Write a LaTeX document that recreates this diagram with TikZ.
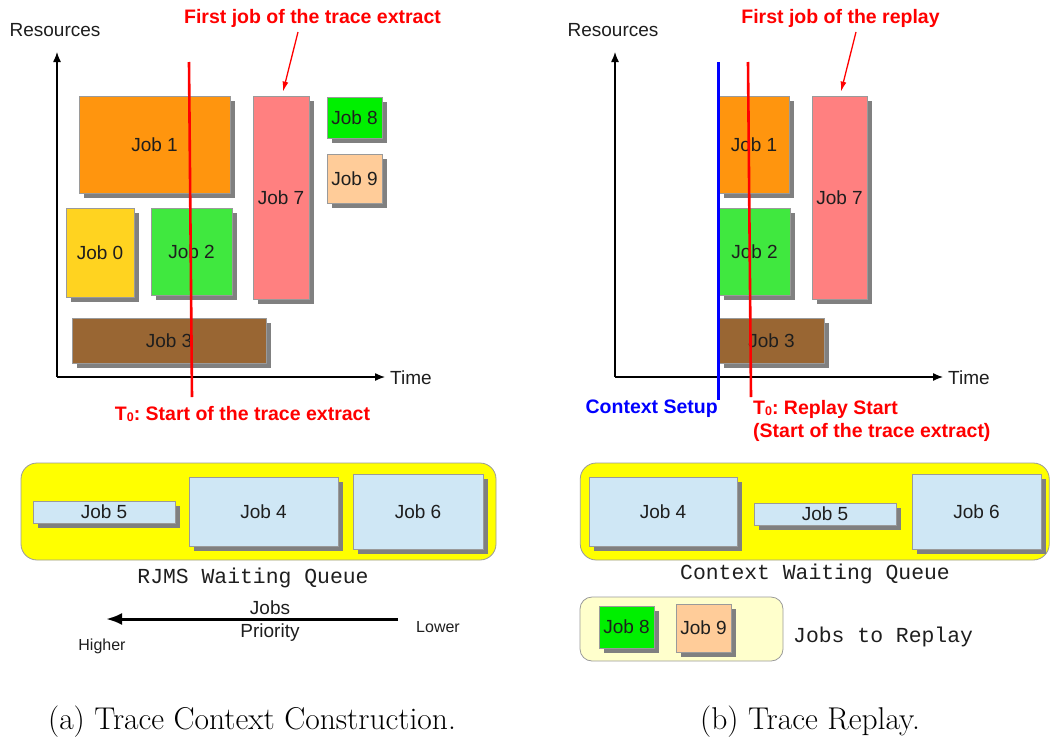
\documentclass[tikz,border=0pt]{standalone}
\usepackage{fontspec}
\usetikzlibrary{arrows.meta,shadows}
\newfontfamily\jobfont{Liberation Sans}
\newfontfamily\queuefont{Liberation Mono}
\definecolor{joborange}{HTML}{FF950E}
\definecolor{jobgold}{HTML}{FFD320}
\definecolor{jobgreen}{HTML}{40E83F}
\definecolor{jobbright}{HTML}{00F000}
\definecolor{jobpink}{HTML}{FF8080}
\definecolor{jobpeach}{HTML}{FFCC99}
\definecolor{jobbrown}{HTML}{996633}
\definecolor{jobblue}{HTML}{CFE7F5}
\definecolor{jobshadow}{HTML}{808080}
\definecolor{jobborder}{HTML}{9A9A9A}
\definecolor{jobtext}{HTML}{1E1E1E}
\definecolor{tracered}{HTML}{FF0000}
\definecolor{setupblue}{HTML}{0000FF}
\definecolor{queueyellow}{HTML}{FFFF00}
\definecolor{replayyellow}{HTML}{FFFFCC}
\frenchspacing

\begin{document}
\begin{tikzpicture}[x=1pt,y=-1pt,
    job/.style={draw=jobborder, line width=0.8pt, inner sep=0pt, text=jobtext,
      font=\jobfont\fontsize{19}{22}\selectfont,
      general shadow={fill=jobshadow, shadow xshift=5pt, shadow yshift=-5pt}},
    queue/.style={draw=jobborder, line width=0.8pt, rounded corners=16pt, inner sep=0pt},
    axis/.style={line width=1.3pt, -{Latex[length=10pt,width=8pt]}},
    plain/.style={inner sep=0pt, text=jobtext, font=\jobfont\fontsize{19}{22}\selectfont},
    small/.style={inner sep=0pt, text=jobtext, font=\jobfont\fontsize{16}{19}\selectfont},
    mono/.style={inner sep=0pt, text=jobtext, font=\queuefont\fontsize{21.4}{24}\selectfont},
    redtext/.style={inner sep=0pt, text=tracered, font=\jobfont\bfseries\fontsize{19.5}{23}\selectfont},
    bluetext/.style={inner sep=0pt, text=setupblue, font=\jobfont\bfseries\fontsize{19.5}{23}\selectfont},
    redline/.style={draw=tracered, line width=2.6pt},
    blueline/.style={draw=setupblue, line width=3pt},
    redarrow/.style={draw=tracered, line width=1.3pt, -{Latex[length=10pt,width=6pt]}},
    caption/.style={inner sep=0pt, font=\fontsize{31.5}{36}\selectfont}]
  \useasboundingbox (0,0) rectangle (1051,739);

  % T0 subscript
  \def\tzero{T\raisebox{-1.5pt}{\fontsize{12.5}{12}\selectfont 0}}

  % ---- (a) Trace Context Construction ----
  % Axes
  \coordinate (oL) at (57,377);
  \coordinate (yL) at (57,52);
  \coordinate (xL) at (385,377);
  \draw[axis] (oL) -- (yL);
  \draw[axis] (oL) -- (xL);
  \node[plain] (resL) at (55,30) {Resources};
  \node[plain, anchor=west] (timeL) at (390,378) {Time};

  % Jobs on the schedule
  \node[job, fill=joborange, minimum width=151pt, minimum height=97pt] (l1) at (154.5,144.5) {Job 1};
  \node[job, fill=jobgold, minimum width=68pt, minimum height=89pt] (l0) at (100,252.5) {Job 0};
  \node[job, fill=jobgreen, minimum width=81pt, minimum height=87pt] (l2) at (191.5,251.5) {Job 2};
  \node[job, fill=jobpink, minimum width=56pt, minimum height=203pt] (l7) at (281,197.5) {Job 7};
  \node[job, fill=jobbright, minimum width=55pt, minimum height=41pt] (l8) at (354.5,117.5) {Job 8};
  \node[job, fill=jobpeach, minimum width=55pt, minimum height=49pt] (l9) at (354.5,178.5) {Job 9};
  \node[job, fill=jobbrown, minimum width=194pt, minimum height=45pt] (l3) at (169,340.5) {Job 3};

  % Start of the trace extract
  \coordinate (t0Ltop) at (189,62);
  \coordinate (t0Lbot) at (192,397);
  \draw[redline] (t0Ltop) -- (t0Lbot);
  \node[redtext] (t0L) at (242.5,414) {\tzero: Start of the trace extract};

  % First job of the extract
  \node[redtext] (firstL) at (312.5,18.5) {First job of the trace extract};
  \coordinate (firstLtail) at (298,32);
  \draw[redarrow] (firstLtail) -- ([xshift=2pt,yshift=4pt]l7.north);

  % RJMS waiting queue
  \node[queue, fill=queueyellow, minimum width=475pt, minimum height=97pt] (qL) at (258.5,511.5) {};
  \node[job, fill=jobblue, minimum width=142pt, minimum height=22pt] (l5) at (104,512) {Job 5};
  \node[job, fill=jobblue, minimum width=149pt, minimum height=69pt] (l4) at (263.5,511.5) {Job 4};
  \node[job, fill=jobblue, minimum width=130pt, minimum height=75pt] (l6) at (418,511.5) {Job 6};
  \node[mono] (qLname) at (253,578) {RJMS Waiting Queue};

  % Priority arrow
  \coordinate (prioLow) at (398,619);
  \coordinate (prioHigh) at (106,619);
  \draw[line width=3pt, -{Latex[length=16pt,width=12pt]}] (prioLow) -- (prioHigh);
  \node[plain, align=center, font=\jobfont\fontsize{19}{23}\selectfont] (prio) at (270,621) {Jobs\\Priority};
  \node[small] (lower) at (438,627) {Lower};
  \node[small] (higher) at (102,646) {Higher};

  \node[caption] (capA) at (252,722) {(a) Trace Context Construction.};

  % ---- (b) Trace Replay ----
  % Axes
  \coordinate (oR) at (615,377);
  \coordinate (yR) at (615,52);
  \coordinate (xR) at (943,377);
  \draw[axis] (oR) -- (yR);
  \draw[axis] (oR) -- (xR);
  \node[plain] (resR) at (613,30) {Resources};
  \node[plain, anchor=west] (timeR) at (948,378) {Time};

  % Jobs cut at the context setup
  \node[job, fill=joborange, minimum width=70pt, minimum height=97pt] (r1) at (754,144.5) {Job 1};
  \node[job, fill=jobgreen, minimum width=71pt, minimum height=87pt] (r2) at (754.5,251.5) {Job 2};
  \node[job, fill=jobpink, minimum width=55pt, minimum height=203pt] (r7) at (839.5,197.5) {Job 7};
  \node[job, fill=jobbrown, minimum width=105pt, minimum height=45pt] (r3) at (771.5,340.5) {Job 3};

  % Context setup and replay start
  \coordinate (setupTop) at (718,62);
  \coordinate (setupBot) at (718,400);
  \draw[blueline] (setupTop) -- (setupBot);
  \coordinate (t0Rtop) at (748,62);
  \coordinate (t0Rbot) at (751,397);
  \draw[redline] (t0Rtop) -- (t0Rbot);
  \node[bluetext, anchor=east] (setup) at (718,409) {Context Setup};
  \node[redtext, anchor=north west, align=left] (t0R) at (753,400) {\tzero: Replay Start\\(Start of the trace extract)};

  % First job of the replay
  \node[redtext] (firstR) at (840.5,18.5) {First job of the replay};
  \coordinate (firstRtail) at (856,32);
  \draw[redarrow] (firstRtail) -- ([xshift=1.5pt,yshift=4pt]r7.north);

  % Context waiting queue
  \node[queue, fill=queueyellow, minimum width=469pt, minimum height=97pt] (qR) at (814.75,511.5) {};
  \node[job, fill=jobblue, minimum width=148pt, minimum height=69pt] (r4) at (663,511.5) {Job 4};
  \node[job, fill=jobblue, minimum width=142pt, minimum height=22pt] (r5) at (825,514) {Job 5};
  \node[job, fill=jobblue, minimum width=129pt, minimum height=75pt] (r6) at (976.5,511.5) {Job 6};
  \node[mono] (qRname) at (815,574) {Context Waiting Queue};

  % Jobs to replay
  \node[queue, fill=replayyellow, rounded corners=12pt, minimum width=203pt, minimum height=64pt] (replay) at (681.5,629) {};
  \node[job, fill=jobbright, minimum width=55pt, minimum height=42pt] (r8) at (626.5,627) {Job 8};
  \node[job, fill=jobpeach, minimum width=55pt, minimum height=48pt] (r9) at (703.5,628) {Job 9};
  \node[mono, anchor=west] (replayname) at (793,637) {Jobs to Replay};

  \node[caption] (capB) at (810,722) {(b) Trace Replay.};
\end{tikzpicture}
\end{document}
